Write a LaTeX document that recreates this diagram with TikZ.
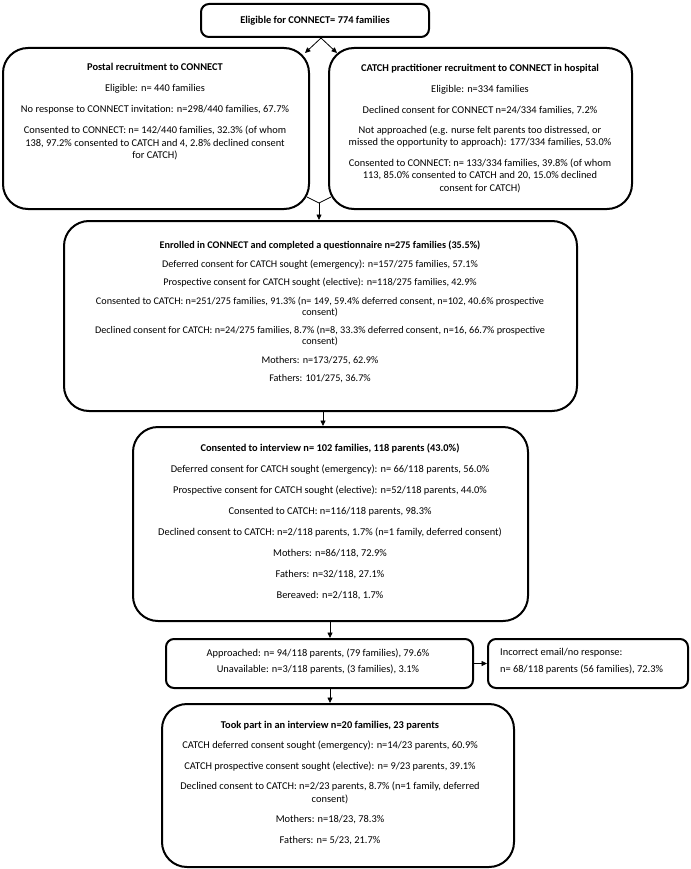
\documentclass[tikz,border=0pt]{standalone}
\usepackage{fontspec}
\setmainfont{Carlito}
\usetikzlibrary{arrows.meta,calc}
\begin{document}
\begin{tikzpicture}[x=1pt,y=-1pt,
  box/.style={draw, line width=2pt, inner sep=0pt, anchor=north west},
  bigr/.style={rounded corners=25pt},
  smallr/.style={rounded corners=8pt},
  txt/.style={align=center, inner sep=0pt, anchor=north, font=\fontsize{10.4}{12.2}\selectfont},
  arr/.style={line width=0.8pt, -{Triangle[length=5.5pt,width=5pt]}},
  ln/.style={line width=0.8pt}]
\useasboundingbox (0,0) rectangle (690,869);

% boxes
\node[box,smallr,minimum width=228pt,minimum height=33pt] (b1) at (200,3) {};
\node[box,bigr,minimum width=306pt,minimum height=161pt] (b2) at (2,47) {};
\node[box,bigr,minimum width=303pt,minimum height=161pt] (b3) at (328,47) {};
\node[box,bigr,minimum width=513pt,minimum height=190pt] (b4) at (63,220) {};
\node[box,bigr,minimum width=395pt,minimum height=194pt] (b5) at (132,426) {};
\node[box,smallr,minimum width=307pt,minimum height=49pt] (b6) at (165,638) {};
\node[box,smallr,minimum width=200pt,minimum height=49pt] (b7) at (487,638) {};
\node[box,bigr,minimum width=352pt,minimum height=163pt] (b8) at (161,703) {};

% texts
\node[txt,anchor=center] (t1) at (b1.center) {\textbf{Eligible for CONNECT= 774 families}};

\node[txt] (t2) at (155,63.5) {\textbf{Postal recruitment to CONNECT}\\[8.8pt]
Eligible: n= 440 families\\[8.8pt]
No response to CONNECT invitation: n=298/440 families, 67.7\%\\[8.8pt]
Consented to CONNECT: n= 142/440 families, 32.3\% (of whom\\
138, 97.2\% consented to CATCH and 4, 2.8\% declined consent\\
for CATCH)};

\node[txt] (t3) at (480,63.5) {\textbf{CATCH practitioner recruitment to CONNECT in hospital}\\[8.8pt]
Eligible: n=334 families\\[8.8pt]
Declined consent for CONNECT n=24/334 families, 7.2\%\\[8.3pt]
Not approached (e.g. nurse felt parents too distressed, or\\
missed the opportunity to approach): 177/334 families, 53.0\%\\[8.8pt]
Consented to CONNECT: n= 133/334 families, 39.8\% (of whom\\
113, 85.0\% consented to CATCH and 20, 15.0\% declined\\
consent for CATCH)};

\node[txt,font=\fontsize{10.2}{11}\selectfont] (t4) at (320,240.8) {\textbf{Enrolled in CONNECT and completed a questionnaire n=275 families (35.5\%)}\\[7.5pt]
Deferred consent for CATCH sought (emergency): n=157/275 families, 57.1\%\\[7.5pt]
Prospective consent for CATCH sought (elective): n=118/275 families, 42.9\%\\[7.5pt]
Consented to CATCH: n=251/275 families, 91.3\% (n= 149, 59.4\% deferred consent, n=102, 40.6\% prospective\\
consent)\\[7.5pt]
Declined consent for CATCH: n=24/275 families, 8.7\% (n=8, 33.3\% deferred consent, n=16, 66.7\% prospective\\
consent)\\[7.5pt]
Mothers: n=173/275, 62.9\%\\[7.5pt]
Fathers: 101/275, 36.7\%};

\node[txt] (t5) at (330,443.5) {\textbf{Consented to interview n= 102 families, 118 parents (43.0\%)}\\[8.8pt]
Deferred consent for CATCH sought (emergency): n= 66/118 parents, 56.0\%\\[8.8pt]
Prospective consent for CATCH sought (elective): n=52/118 parents, 44.0\%\\[8.8pt]
Consented to CATCH: n=116/118 parents, 98.3\%\\[8.8pt]
Declined consent to CATCH: n=2/118 parents, 1.7\% (n=1 family, deferred consent)\\[8.8pt]
Mothers: n=86/118, 72.9\%\\[8.8pt]
Fathers: n=32/118, 27.1\%\\[8.8pt]
Bereaved: n=2/118, 1.7\%};

\node[txt] (t6) at (318,648.5) {Approached: n= 94/118 parents, (79 families), 79.6\%\\[4.3pt]
Unavailable: n=3/118 parents, (3 families), 3.1\%};

\node[txt,align=left,anchor=north west] (t7) at (500,648.5) {Incorrect email/no response:\\[4.3pt]
n= 68/118 parents (56 families), 72.3\%};

\node[txt] (t8) at (330,720.5) {\textbf{Took part in an interview n=20 families, 23 parents}\\[8.4pt]
CATCH deferred consent sought (emergency): n=14/23 parents, 60.9\%\\[8.4pt]
CATCH prospective consent sought (elective): n= 9/23 parents, 39.1\%\\[8.4pt]
Declined consent to CATCH: n=2/23 parents, 8.7\% (n=1 family, deferred\\
consent)\\[8.4pt]
Mothers: n=18/23, 78.3\%\\[8.4pt]
Fathers: n= 5/23, 21.7\%};

% connectors
\coordinate (e2) at (305,53);
\coordinate (e3) at (337,53);
\draw[arr] ([xshift=6pt]b1.south) -- (e2);
\draw[arr] ([xshift=6pt]b1.south) -- (e3);

\coordinate (m2) at (307,197);
\coordinate (m3) at (331,197);
\coordinate (mj) at (319,203);
\draw[ln] (m2) -- (mj) -- (m3);
\draw[arr] (mj) -- (mj |- b4.north);

\coordinate (x45) at (323,0);
\draw[arr] (b4.south -| x45) -- (b5.north -| x45);
\coordinate (x56) at (330,0);
\draw[arr] (b5.south -| x56) -- (b6.north -| x56);
\draw[arr] (b6.east) -- (b7.west);
\draw[arr] (b6.south -| x56) -- (b8.north -| x56);
\end{tikzpicture}
\end{document}
